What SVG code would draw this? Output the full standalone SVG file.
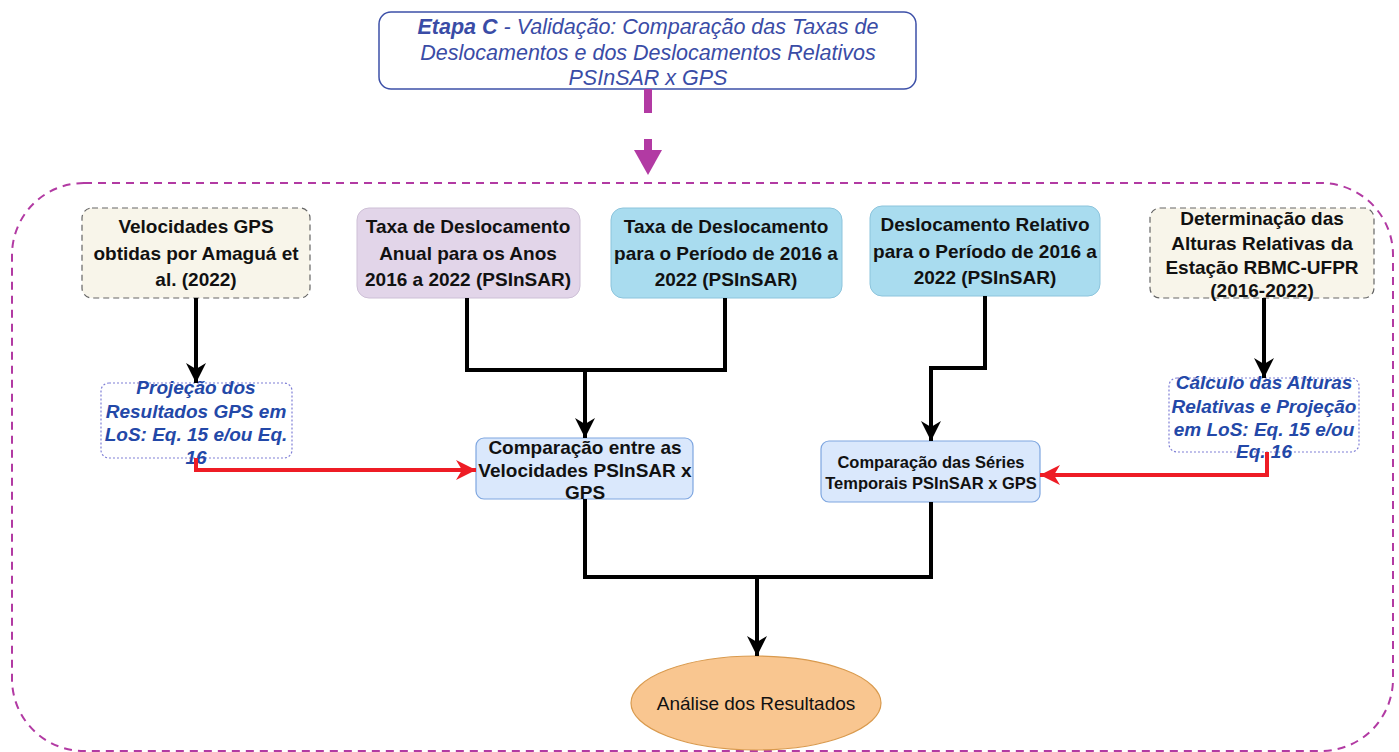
<svg xmlns="http://www.w3.org/2000/svg" width="1399" height="752" viewBox="0 0 1399 752">
<style>
.b{font-family:"Liberation Sans",Arial,sans-serif;font-weight:bold;font-size:19px;fill:#111;text-anchor:middle}
.n{font-family:"Liberation Sans",Arial,sans-serif;font-size:19px;fill:#111;text-anchor:middle}
.t{font-family:"Liberation Sans",Arial,sans-serif;font-style:italic;font-size:21.5px;fill:#3a4ca6;text-anchor:middle}
.i{font-family:"Liberation Sans",Arial,sans-serif;font-style:italic;font-weight:bold;font-size:19px;fill:#2348a8;text-anchor:middle}
.cream{fill:#f8f5ea;stroke:#666;stroke-width:1.2;stroke-dasharray:6,4}
.dot{fill:#fff;stroke:#7f7fd6;stroke-width:1.2;stroke-dasharray:2,2}
.blue{fill:#a9dcef;stroke:#8cc4dc;stroke-width:1}
.lav{fill:#e2d5e9;stroke:#cdbfd6;stroke-width:1}
.cmp{fill:#dae8fc;stroke:#7ea6e0;stroke-width:1.2}
.k{fill:none;stroke:#000;stroke-width:4}
.r{fill:none;stroke:#ee1c25;stroke-width:4}
</style>
<defs>
<marker id="ak" viewBox="0 0 10 10" refX="10" refY="5" markerWidth="5" markerHeight="5" markerUnits="strokeWidth" orient="auto"><path d="M0,0 L10,5 L0,10 L3,5 Z" fill="#000"/></marker>
<marker id="ar" viewBox="0 0 10 10" refX="10" refY="5" markerWidth="5" markerHeight="5" markerUnits="strokeWidth" orient="auto"><path d="M0,0 L10,5 L0,10 L3,5 Z" fill="#ee1c25"/></marker>
</defs>
<rect width="1399" height="752" fill="#fff"/>
<rect x="12" y="183" width="1381" height="568" rx="72" fill="none" stroke="#b23aa3" stroke-width="2" stroke-dasharray="8,6"/>
<g id="etapa">
<rect x="379" y="12" width="537" height="77" rx="12" fill="#fff" stroke="#3d50a8" stroke-width="1.5"/>
<text class="t" x="648" y="34"><tspan font-weight="bold">Etapa C</tspan> - Validação: Comparação das Taxas de</text>
<text class="t" x="648" y="60">Deslocamentos e dos Deslocamentos Relativos</text>
<text class="t" x="648" y="85">PSInSAR x GPS</text>
</g>
<g id="n1">
<rect class="cream" x="82" y="208" width="228" height="90" rx="10"/>
<text class="b" x="196" y="233">Velocidades GPS</text>
<text class="b" x="196" y="260">obtidas por Amaguá et</text>
<text class="b" x="196" y="286">al. (2022)</text>
</g>
<g id="n2">
<rect class="lav" x="357" y="208" width="223" height="90" rx="12"/>
<text class="b" x="468" y="233">Taxa de Deslocamento</text>
<text class="b" x="468" y="260">Anual para os Anos</text>
<text class="b" x="468" y="286">2016 a 2022 (PSInSAR)</text>
</g>
<g id="n3">
<rect class="blue" x="611" y="208" width="231" height="90" rx="12"/>
<text class="b" x="726" y="233">Taxa de Deslocamento</text>
<text class="b" x="726" y="260">para o Período de 2016 a</text>
<text class="b" x="726" y="286">2022 (PSInSAR)</text>
</g>
<g id="n4">
<rect class="blue" x="870" y="206" width="230" height="90" rx="12"/>
<text class="b" x="985" y="231">Deslocamento Relativo</text>
<text class="b" x="985" y="258">para o Período de 2016 a</text>
<text class="b" x="985" y="284">2022 (PSInSAR)</text>
</g>
<g id="n5">
<rect class="cream" x="1150" y="208" width="224" height="90" rx="10"/>
<text class="b" x="1262" y="225">Determinação das</text>
<text class="b" x="1262" y="250">Alturas Relativas da</text>
<text class="b" x="1262" y="274">Estação RBMC-UFPR</text>
<text class="b" x="1262" y="297">(2016-2022)</text>
</g>
<g id="n6">
<rect class="dot" x="101" y="383" width="191" height="75" rx="8"/>
<text class="i" x="196" y="394">Projeção dos</text>
<text class="i" x="196" y="418">Resultados GPS em</text>
<text class="i" x="196" y="441">LoS: Eq. 15 e/ou Eq.</text>
<text class="i" x="196" y="464">16</text>
</g>
<g id="n7">
<rect class="dot" x="1169" y="378" width="190" height="74" rx="8"/>
<text class="i" x="1264" y="389">Cálculo das Alturas</text>
<text class="i" x="1264" y="413">Relativas e Projeção</text>
<text class="i" x="1264" y="436">em LoS: Eq. 15 e/ou</text>
<text class="i" x="1264" y="458">Eq. 16</text>
</g>
<g id="n8">
<rect class="cmp" x="476" y="438" width="217" height="61" rx="8"/>
<text class="b" x="585" y="454">Comparação entre as</text>
<text class="b" x="585" y="477">Velocidades PSInSAR x</text>
<text class="b" x="585" y="499">GPS</text>
</g>
<g id="n9">
<rect class="cmp" x="821" y="441" width="219" height="61" rx="8"/>
<text class="b" x="931" y="468" style="font-size:16.5px">Comparação das Séries</text>
<text class="b" x="931" y="489" style="font-size:16.5px">Temporais PSInSAR x GPS</text>
</g>
<g id="n10">
<ellipse cx="756" cy="703" rx="125" ry="47" fill="#f9c690" stroke="#d99a4e" stroke-width="1.2"/>
<text class="n" x="756" y="710">Análise dos Resultados</text>
</g>
<g id="connectors">
<line x1="648" y1="89" x2="648" y2="113" stroke="#b23aa3" stroke-width="8"/>
<line x1="648" y1="139" x2="648" y2="152" stroke="#b23aa3" stroke-width="8"/>
<path d="M634,150 L662,150 L648,175 Z" fill="#b23aa3"/>
<path class="k" d="M196,298 V383" marker-end="url(#ak)"/>
<path class="k" d="M467,298 V370 H725 V298"/>
<path class="k" d="M585,370 V438" marker-end="url(#ak)"/>
<path class="k" d="M985,296 V368 H931 V441" marker-end="url(#ak)"/>
<path class="k" d="M1264,298 V378" marker-end="url(#ak)"/>
<path class="r" d="M196,458 V470 H476" marker-end="url(#ar)"/>
<path class="r" d="M1267,452 V475 H1040" marker-end="url(#ar)"/>
<path class="k" d="M585,499 V577 H931 V502"/>
<path class="k" d="M757,577 V656" marker-end="url(#ak)"/>
</g>
</svg>
